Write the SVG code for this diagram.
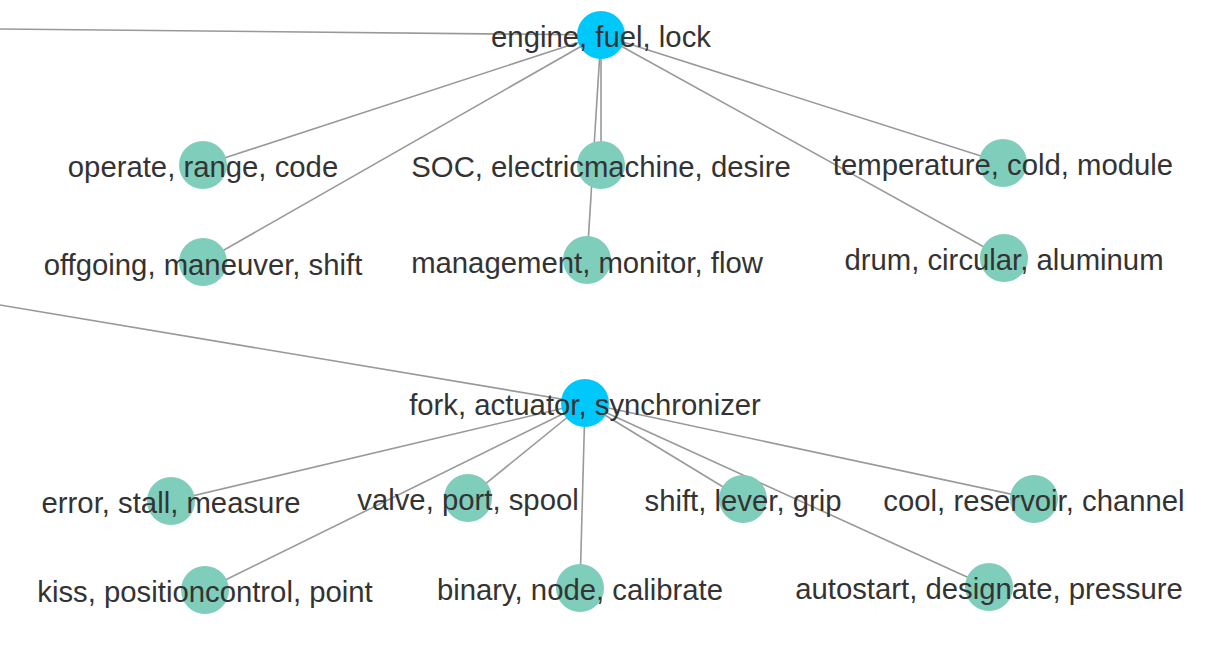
<svg xmlns="http://www.w3.org/2000/svg" width="1222" height="671" viewBox="0 0 1222 671">
<style>
.edge{stroke:#999999;stroke-width:1.6;fill:none}
.hub{fill:#00c8fa}
.leaf{fill:#7fcdbb}
text{font-family:"Liberation Sans",Arial,sans-serif;font-size:29.3px;fill:#333333;text-anchor:middle;dominant-baseline:central}
</style>
<rect width="1222" height="671" fill="#ffffff"/>
<g id="edges">
<line class="edge" x1="0" y1="29" x2="601" y2="35"/>
<line class="edge" x1="601" y1="35" x2="203" y2="165"/>
<line class="edge" x1="601" y1="35" x2="203" y2="262"/>
<line class="edge" x1="601" y1="35" x2="601" y2="165"/>
<line class="edge" x1="601" y1="35" x2="587" y2="260"/>
<line class="edge" x1="601" y1="35" x2="1003" y2="163"/>
<line class="edge" x1="601" y1="35" x2="1004" y2="258"/>
<line class="edge" x1="0" y1="305" x2="585" y2="403"/>
<line class="edge" x1="585" y1="403" x2="171" y2="501"/>
<line class="edge" x1="585" y1="403" x2="468" y2="498"/>
<line class="edge" x1="585" y1="403" x2="205" y2="590"/>
<line class="edge" x1="585" y1="403" x2="580" y2="588"/>
<line class="edge" x1="585" y1="403" x2="743" y2="499"/>
<line class="edge" x1="585" y1="403" x2="989" y2="587"/>
<line class="edge" x1="585" y1="403" x2="1034" y2="499"/>
</g>
<g id="n-operate"><circle class="leaf" cx="203" cy="165" r="24"/></g>
<g id="n-soc"><circle class="leaf" cx="601" cy="165" r="24"/></g>
<g id="n-temperature"><circle class="leaf" cx="1003" cy="163" r="24"/></g>
<g id="n-offgoing"><circle class="leaf" cx="203" cy="262" r="24"/></g>
<g id="n-management"><circle class="leaf" cx="587" cy="260" r="24"/></g>
<g id="n-drum"><circle class="leaf" cx="1004" cy="258" r="24"/></g>
<g id="n-error"><circle class="leaf" cx="171" cy="501" r="24"/></g>
<g id="n-valve"><circle class="leaf" cx="468" cy="498" r="24"/></g>
<g id="n-shift"><circle class="leaf" cx="743" cy="499" r="24"/></g>
<g id="n-cool"><circle class="leaf" cx="1034" cy="499" r="24"/></g>
<g id="n-kiss"><circle class="leaf" cx="205" cy="590" r="24"/></g>
<g id="n-binary"><circle class="leaf" cx="580" cy="588" r="24"/></g>
<g id="n-autostart"><circle class="leaf" cx="989" cy="587" r="24"/></g>
<g id="n-engine"><circle class="hub" cx="601" cy="35" r="24"/></g>
<g id="n-fork"><circle class="hub" cx="585" cy="403" r="24"/></g>
<g id="labels">
<text x="601" y="36">engine, fuel, lock</text>
<text x="585" y="404">fork, actuator, synchronizer</text>
<text x="203" y="166">operate, range, code</text>
<text x="601" y="166">SOC, electricmachine, desire</text>
<text x="1003" y="164">temperature, cold, module</text>
<text x="203" y="264">offgoing, maneuver, shift</text>
<text x="587" y="262">management, monitor, flow</text>
<text x="1004" y="259">drum, circular, aluminum</text>
<text x="171" y="502">error, stall, measure</text>
<text x="468" y="499">valve, port, spool</text>
<text x="743" y="500">shift, lever, grip</text>
<text x="1034" y="500">cool, reservoir, channel</text>
<text x="205" y="591">kiss, positioncontrol, point</text>
<text x="580" y="589">binary, node, calibrate</text>
<text x="989" y="588">autostart, designate, pressure</text>
</g>
</svg>
